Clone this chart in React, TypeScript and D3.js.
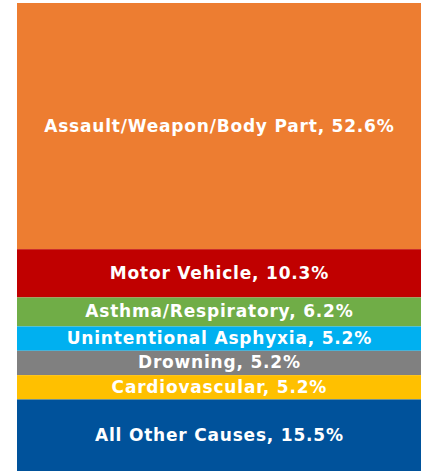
import React, { useEffect, useRef } from 'react'
import * as d3 from 'd3'

const causes = [
  'Assault/Weapon/Body Part',
  'Motor Vehicle',
  'Asthma/Respiratory',
  'Unintentional Asphyxia',
  'Drowning',
  'Cardiovascular',
  'All Other Causes',
]
const shares = [52.6, 10.3, 6.2, 5.2, 5.2, 5.2, 15.5]
const colors = ['#ED7D31', '#C00000', '#70AD47', '#00B0F0', '#808080', '#FFC000', '#00529B']

const W = 422
const H = 471

const App = () => {
  const ref = useRef<SVGSVGElement>(null)

  useEffect(() => {
    const svg = d3.select(ref.current)
    svg.selectAll('*').remove()

    const total = d3.sum(shares)
    const rows = causes.map((c, i) => ({
      cause: c,
      value: shares[i],
      color: colors[i],
      start: d3.sum(shares.slice(0, i)),
    }))

    const y = d3.scaleLinear().domain([0, total]).range([3, 472])
    const x = d3.scaleBand().domain(['all']).range([17, 421]).padding(0)

    const g = svg.selectAll('g.seg').data(rows).enter().append('g').attr('class', 'seg')

    g.append('rect')
      .attr('x', x('all')!)
      .attr('width', x.bandwidth())
      .attr('y', d => y(d.start))
      .attr('height', d => y(d.start + d.value) - y(d.start))
      .style('fill', d => d.color)

    g.append('text')
      .attr('x', x('all')! + x.bandwidth() / 2 + 0.4)
      .attr('y', d => y(d.start + d.value / 2) - 0.5)
      .attr('text-anchor', 'middle')
      .attr('dominant-baseline', 'central')
      .style('fill', '#fff')
      .style('font-family', '"DejaVu Sans", sans-serif')
      .style('font-weight', 700)
      .style('font-size', '17px')
      .style('letter-spacing', '0.8px')
      .text(d => `${d.cause}, ${d.value}%`)
  }, [])

  return (
    <svg
      ref={ref}
      width={W}
      height={H}
      style={{ position: 'absolute', left: 0, top: 0, background: '#fff' }}
    />
  )
}

export default App
